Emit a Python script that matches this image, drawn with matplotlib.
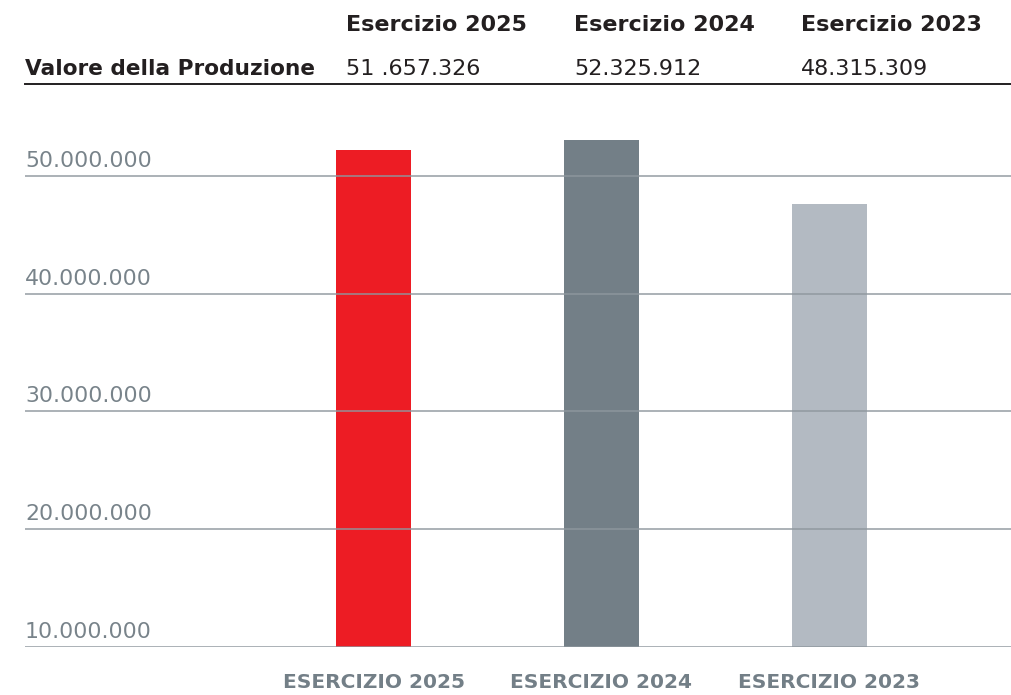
import matplotlib.pyplot as plt
import matplotlib.transforms as mtransforms

# table values (as printed in the reference)
columns = ["Esercizio 2025", "Esercizio 2024", "Esercizio 2023"]
row_label = "Valore della Produzione"
row_values = ["51 .657.326", "52.325.912", "48.315.309"]

# bar chart (heights)
categories = ["ESERCIZIO 2025", "ESERCIZIO 2024", "ESERCIZIO 2023"]
bar_values = [52.2e6, 53.06e6, 47.6e6]
bar_colors = ["#ED1C24", "#737F87", "#B3BAC2"]
y_ticks = [10e6, 20e6, 30e6, 40e6, 50e6]
y_labels = ["10.000.000", "20.000.000", "30.000.000", "40.000.000", "50.000.000"]

W, H = 1011, 695
fig = plt.figure(figsize=(W / 100, H / 100), dpi=100)


def fx(px):
    return px / W


def fy(py):
    return 1 - py / H


dark = "#231F20"
grey_txt = "#78838A"
grid_col = "#8E979E"

# table header
col_x = [346, 574, 801]
for x, c in zip(col_x, columns):
    fig.text(fx(x), fy(31), c, fontsize=16, fontweight="bold", color=dark,
             ha="left", va="baseline")
fig.text(fx(25), fy(75), row_label, fontsize=15.6, fontweight="bold", color=dark,
         ha="left", va="baseline")
for x, v in zip(col_x, row_values):
    fig.text(fx(x), fy(75), v, fontsize=16, color=dark, ha="left", va="baseline")
fig.add_artist(plt.Line2D([fx(25), fx(1011)], [fy(84), fy(84)], color=dark, lw=1.4))

# chart area: 10M at y=647, 117.75 px per 10M
ax = fig.add_axes([fx(25), fy(647), fx(1011) - fx(25), fy(100) - fy(647)])
top = 10e6 + (647 - 100) / 117.75 * 10e6
ax.set_ylim(10e6, top)
pos = [0, 1, 2]
ax.set_xlim((25 - 373.5) / 227.75, (1011 - 373.5) / 227.75)
ax.bar(pos, [v - 10e6 for v in bar_values], bottom=10e6, width=75 / 227.75,
       color=bar_colors, zorder=2)

for t in y_ticks:
    ax.axhline(t, color=grid_col, lw=1.3, alpha=0.8, zorder=3)

trans = mtransforms.offset_copy(ax.get_yaxis_transform(), fig=fig, x=0, y=9, units="dots")
for t, lab in zip(y_ticks, y_labels):
    ax.text(0, t, lab, transform=trans, fontsize=15.8, color=grey_txt,
            ha="left", va="baseline")

ax.set_xticks([])
ax.set_yticks([])
for s in ax.spines.values():
    s.set_visible(False)
ax.patch.set_alpha(0)

for p, c in zip(pos, categories):
    ax.annotate(c, xy=(p, 10e6), xytext=(0, -35), textcoords="offset pixels",
                fontsize=14.5, fontweight="bold", color="#737F87",
                ha="center", va="center", annotation_clip=False)

fig.savefig("out.png", dpi=100)
